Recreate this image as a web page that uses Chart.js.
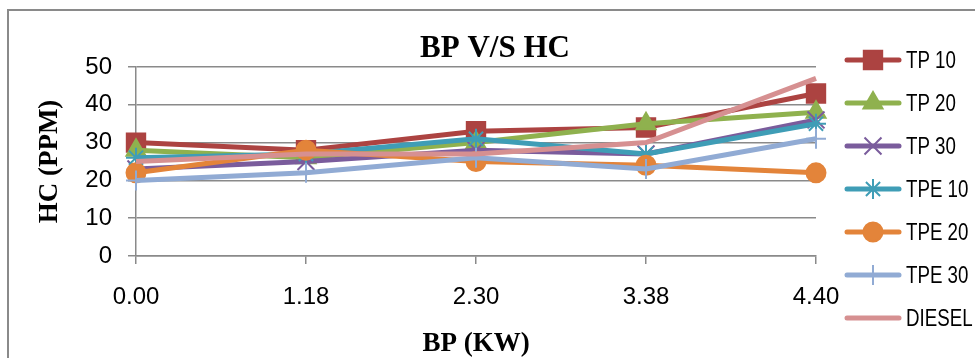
<!DOCTYPE html>
<html>
<head>
<meta charset="utf-8">
<script src="https://cdn.jsdelivr.net/npm/chart.js@4"></script>
<style>
  html, body { margin: 0; padding: 0; background: #fff; overflow: hidden; }
  #wrap { width: 975px; height: 358px; position: relative; }
</style>
</head>
<body>
<div id="wrap"><canvas id="myChart" width="975" height="358"></canvas></div>
<script>
const bpLabels = ["0.00", "1.18", "2.30", "3.38", "4.40"];
const tp10   = [30, 28, 33, 34, 43];
const tp20   = [28, 26, 30, 35, 38];
const tp30   = [23, 25, 28, 27, 36];
const tpe10  = [26, 27, 31, 27, 35];
const tpe20  = [22, 28, 25, 24, 22];
const tpe30  = [20, 22, 26, 23, 31];
const diesel = [25, 27, 27, 30, 47];
const yTicks = [0, 10, 20, 30, 40, 50];

const series = [
  { label: "TP 10",  data: tp10,   color: "#ac4341", style: "rect",     r: 13 },
  { label: "TP 20",  data: tp20,   color: "#8fb14e", style: "triangle", r: 11 },
  { label: "TP 30",  data: tp30,   color: "#7a5c9c", style: "crossRot", r: 12 },
  { label: "TPE 10", data: tpe10,  color: "#3f9db6", style: "star",     r: 10 },
  { label: "TPE 20", data: tpe20,  color: "#e3843a", style: "circle",   r: 9.5 },
  { label: "TPE 30", data: tpe30,  color: "#91abd4", style: "cross",    r: 10 },
  { label: "DIESEL", data: diesel, color: "#d69091", style: false,      r: 0 }
];

const data = {
  labels: bpLabels,
  datasets: series.map((s, i) => ({
    label: s.label,
    data: s.data,
    borderColor: s.color,
    backgroundColor: s.color,
    borderWidth: 5,
    tension: 0,
    pointStyle: s.style,
    pointRadius: s.r,
    pointHoverRadius: s.r,
    pointBorderWidth: 2,
    pointBackgroundColor: s.color,
    pointBorderColor: s.color,
    order: series.length - i // later series drawn on top
  }))
};

// frame, title and the legend on the right
const decor = {
  id: 'decor',
  afterDraw(chart) {
    const ctx = chart.ctx;
    ctx.save();
    ctx.strokeStyle = '#8a8a8a';
    ctx.lineWidth = 2;
    ctx.strokeRect(8, 10, 1100, 500);

    ctx.fillStyle = '#000';
    ctx.font = 'bold 31px "Liberation Serif", "Times New Roman", serif';
    ctx.textAlign = 'center';
    ctx.textBaseline = 'middle';
    ctx.fillText('BP V/S HC', 495, 49);

    ctx.textAlign = 'left';
    ctx.font = '24px "Liberation Sans", Arial, sans-serif';
    series.forEach((s, i) => {
      const y = 60 + i * 43;
      ctx.strokeStyle = s.color;
      ctx.fillStyle = s.color;
      ctx.lineWidth = 5;
      ctx.lineCap = 'round';
      ctx.beginPath();
      ctx.moveTo(847, y);
      ctx.lineTo(899, y);
      ctx.stroke();
      if (s.style && Chart.helpers && Chart.helpers.drawPoint) {
        ctx.lineWidth = 2;
        ctx.lineCap = 'butt';
        Chart.helpers.drawPoint(ctx, { pointStyle: s.style, radius: s.r, rotation: 0, borderWidth: 2 }, 873, y);
      }
      // legend text is narrow in the original, squeeze it a bit
      ctx.save();
      ctx.translate(906, y + 1);
      ctx.scale(0.78, 1);
      ctx.fillStyle = '#000';
      ctx.fillText(s.label, 0, 0);
      ctx.restore();
    });
    ctx.restore();
  }
};

const config = {
  type: 'line',
  data: data,
  options: {
    responsive: false,
    animation: false,
    layout: { padding: { top: 67, right: 159, left: 0, bottom: 0 } },
    plugins: {
      legend: { display: false },
      title: { display: false },
      tooltip: { enabled: false }
    },
    scales: {
      x: {
        offset: false,
        afterFit(scale) { scale.height = 102; },
        grid: { display: true, drawOnChartArea: false, drawTicks: true, tickLength: 8, color: '#8a8a8a', lineWidth: 1.5 },
        border: { display: true, color: '#8a8a8a', width: 1.5 },
        ticks: { color: '#000', padding: 19, maxRotation: 0, font: { family: '"Liberation Sans", Arial, sans-serif', size: 24 } },
        title: { display: true, text: 'BP (KW)', color: '#000', padding: { top: 0, bottom: 0 },
                 font: { family: '"Liberation Serif", "Times New Roman", serif', size: 27, weight: 'bold', lineHeight: 1 } }
      },
      y: {
        min: yTicks[0],
        max: yTicks[yTicks.length - 1],
        afterFit(scale) { scale.width = 136; },
        afterBuildTicks(scale) { scale.ticks = yTicks.map(v => ({ value: v })); },
        grid: { color: '#8a8a8a', lineWidth: 1.5, tickLength: 8 },
        border: { display: true, color: '#8a8a8a', width: 1.5 },
        ticks: { color: '#000', padding: 16, font: { family: '"Liberation Sans", Arial, sans-serif', size: 24 } },
        title: { display: true, text: 'HC (PPM)', color: '#000', padding: { top: 37, bottom: 0 },
                 font: { family: '"Liberation Serif", "Times New Roman", serif', size: 27, weight: 'bold', lineHeight: 1 } }
      }
    }
  },
  plugins: [decor]
};

const ctx = document.getElementById('myChart').getContext('2d');
const myChart = new Chart(ctx, config);
</script>
</body>
</html>
